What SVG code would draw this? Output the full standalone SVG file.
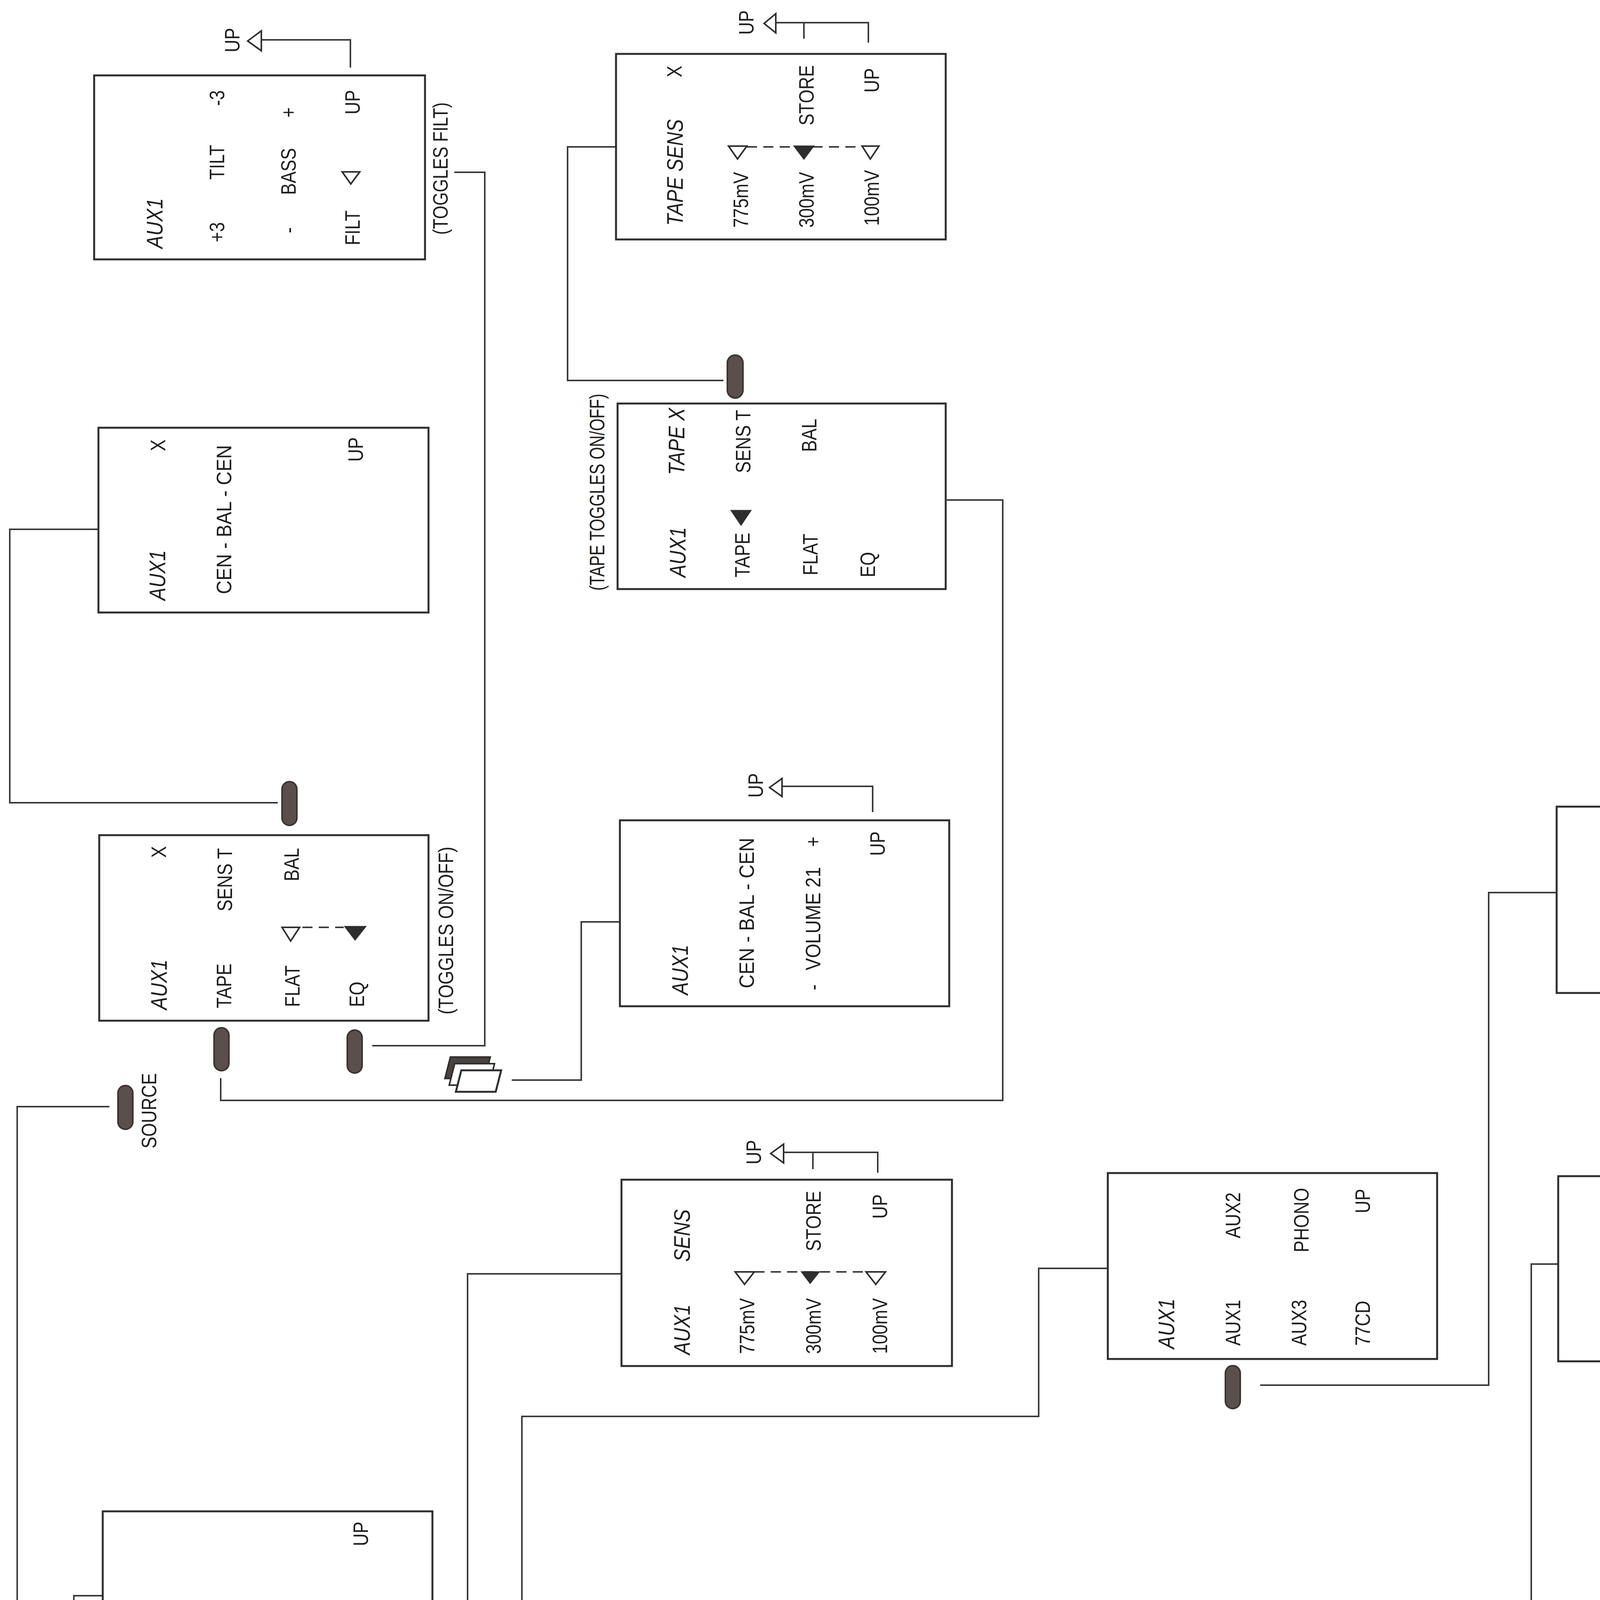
<svg xmlns="http://www.w3.org/2000/svg" width="4930" height="5728" viewBox="0 0 4930 5728">
<style>
.box{fill:#fff;stroke:#2e2e2e;stroke-width:5}
.ln{fill:none;stroke:#3a3a3a;stroke-width:4}
.dash{fill:none;stroke:#3a3a3a;stroke-width:4;stroke-dasharray:26 16}
.btn{fill:#5a4f4b;stroke:#3b3331;stroke-width:4}
.tri{fill:#fff;stroke:#2e2e2e;stroke-width:4;stroke-linejoin:miter}
.trif{fill:#2e2e2e;stroke:#2e2e2e;stroke-width:3}
.faint{fill:#fff;stroke:#aaa;stroke-width:3}
text{font-family:"Liberation Sans",Arial,sans-serif;font-size:53px;fill:#1e1e1e}
.h{font-style:italic;font-size:58px}
.s{font-size:34px}
.t{font-size:262px;fill:#222}
</style>
<rect width="4930" height="5728" fill="#fff"/>

<g id="connectors">
<path class="ln" d="M897 173V102H669"/>
<path class="ln" d="M2223 109V58H1986M2058 58V99"/>
<path class="ln" d="M2234 2079V2013H2002"/>
<path class="ln" d="M2247 3002V2950H2006M2081 2950V2993"/>
<path class="ln" d="M4642 2990V2937H4406M4477 2937V2980"/>
<path class="ln" d="M1577 376H1453V974H1852"/>
<path class="ln" d="M2424 1280H2567V2817H565V2760"/>
<path class="ln" d="M953 2677H1241V441H1163"/>
<path class="ln" d="M252 1355H25V2055H711"/>
<path class="ln" d="M280 2833H44V4618H128M253 4618H1502"/>
<path class="ln" d="M1310 2765H1488V2360H1587"/>
<path class="ln" d="M758 4495V4546H1199V4480M1197 4340V3261H1591"/>
<path class="ln" d="M973 4414H1336V3626H2659V3247H2836"/>
<path class="ln" d="M3226 3546H3811V2285H3985"/>
<path class="ln" d="M2144 4349H2841V4726H3999"/>
<path class="ln" d="M4495 5135V5287H3921V4816M3920 4604V3236H3989"/>
<path class="ln" d="M1877 4971H189V4085H263"/>
<polygon class="tri" points="634,105 669,79 669,130"/>
<polygon class="tri" points="1956,60 1986,35 1986,84"/>
<polygon class="tri" points="1970,2016 2002,1993 2002,2039"/>
<polygon class="tri" points="1973,2953 2006,2929 2006,2977"/>
<polygon class="tri" points="4373,2940 4406,2915 4406,2965"/>
<text transform="translate(613 134) rotate(-90) scale(.85 1)">UP</text>
<text transform="translate(1929 89) rotate(-90) scale(.85 1)">UP</text>
<text transform="translate(1953 2042) rotate(-90) scale(.85 1)">UP</text>
<text transform="translate(1948 2981) rotate(-90) scale(.85 1)">UP</text>
<text transform="translate(4343 2969) rotate(-90) scale(.85 1)">UP</text>
</g>

<g id="title">
<text class="t" transform="translate(4616 1231) rotate(-90)" textLength="1103" lengthAdjust="spacingAndGlyphs">Menu Tree</text>
</g>

<g id="aux1-tilt">
<rect class="box" x="241" y="193" width="847" height="471"/>
<text class="h" transform="translate(416 636) rotate(-90) scale(.85 1)">AUX1</text>
<text transform="translate(574 620) rotate(-90) scale(.85 1)">+3</text>
<text transform="translate(574 460) rotate(-90) scale(.85 1)">TILT</text>
<text transform="translate(574 271) rotate(-90) scale(.85 1)">-3</text>
<text transform="translate(757 597) rotate(-90) scale(.85 1)">-</text>
<text transform="translate(757 499) rotate(-90) scale(.85 1)">BASS</text>
<text transform="translate(757 301) rotate(-90) scale(.85 1)">+</text>
<text transform="translate(921 628) rotate(-90) scale(.85 1)">FILT</text>
<polygon class="tri" points="876,440 921,440 898,471"/>
<text transform="translate(921 293) rotate(-90) scale(.85 1)">UP</text>
<text transform="translate(1146 601) rotate(-90) scale(.85 1)" textLength="399" lengthAdjust="spacingAndGlyphs">(TOGGLES FILT)</text>
</g>

<g id="aux1-bal">
<rect class="box" x="252" y="1095" width="845" height="473"/>
<text class="h" transform="translate(423 1537) rotate(-90) scale(.85 1)">AUX1</text>
<text transform="translate(423 1155) rotate(-90) scale(.85 1)">X</text>
<text transform="translate(592 1521) rotate(-90) scale(.85 1)" textLength="449" lengthAdjust="spacingAndGlyphs">CEN  -  BAL  -  CEN</text>
<text transform="translate(929 1182) rotate(-90) scale(.85 1)">UP</text>
</g>

<g id="tape-sens">
<rect class="box" x="1577" y="138" width="844" height="475"/>
<text class="h" transform="translate(1748 578) rotate(-90) scale(.85 1)">TAPE SENS</text>
<text transform="translate(1745 198) rotate(-90) scale(.85 1)">X</text>
<text transform="translate(1915 583) rotate(-90) scale(.85 1)">775mV</text>
<text transform="translate(2083 583) rotate(-90) scale(.85 1)">300mV</text>
<text transform="translate(2250 578) rotate(-90) scale(.85 1)">100mV</text>
<text transform="translate(2083 321) rotate(-90) scale(.85 1)">STORE</text>
<text transform="translate(2250 237) rotate(-90) scale(.85 1)">UP</text>
<path class="dash" d="M1912 376H2207"/>
<polygon class="tri" points="1865,374 1912,374 1888,407"/>
<polygon class="trif" points="2033,374 2083,374 2058,407"/>
<polygon class="tri" points="2207,374 2250,374 2228,407"/>
</g>

<g id="tape-x">
<rect class="box" x="1581" y="1033" width="840" height="475"/>
<text transform="translate(1547 1512) rotate(-90) scale(.85 1)" textLength="593" lengthAdjust="spacingAndGlyphs">(TAPE TOGGLES ON/OFF)</text>
<text class="h" transform="translate(1755 1478) rotate(-90) scale(.85 1)">AUX1</text>
<text class="h" transform="translate(1752 1216) rotate(-90) scale(.85 1)">TAPE X</text>
<text transform="translate(1919 1478) rotate(-90) scale(.85 1)">TAPE</text>
<polygon class="trif" points="1872,1307 1922,1307 1897,1344"/>
<text transform="translate(1921 1211) rotate(-90) scale(.85 1)">SENS T</text>
<text transform="translate(2093 1473) rotate(-90) scale(.85 1)">FLAT</text>
<text transform="translate(2090 1157) rotate(-90) scale(.85 1)">BAL</text>
<text transform="translate(2240 1478) rotate(-90) scale(.85 1)">EQ</text>
</g>

<g id="aux1-tape">
<rect class="box" x="254" y="2138" width="843" height="475"/>
<text class="h" transform="translate(427 2585) rotate(-90) scale(.85 1)">AUX1</text>
<text transform="translate(425 2196) rotate(-90) scale(.85 1)">X</text>
<text transform="translate(592 2581) rotate(-90) scale(.85 1)">TAPE</text>
<text transform="translate(594 2333) rotate(-90) scale(.85 1)">SENS T</text>
<text transform="translate(767 2578) rotate(-90) scale(.85 1)">FLAT</text>
<text transform="translate(765 2256) rotate(-90) scale(.85 1)">BAL</text>
<text transform="translate(932 2578) rotate(-90) scale(.85 1)">EQ</text>
<path class="dash" d="M774 2374H880"/>
<polygon class="tri" points="722,2374 767,2374 744,2409"/>
<polygon class="trif" points="883,2372 936,2372 909,2406"/>
<text transform="translate(1160 2597) rotate(-90) scale(.85 1)">(TOGGLES ON/OFF)</text>
</g>

<g id="aux1-volume">
<rect class="box" x="1587" y="2100" width="843" height="476"/>
<text class="h" transform="translate(1761 2547) rotate(-90) scale(.85 1)">AUX1</text>
<text transform="translate(1930 2530) rotate(-90) scale(.85 1)" textLength="453" lengthAdjust="spacingAndGlyphs">CEN  -  BAL  -  CEN</text>
<text transform="translate(2100 2535) rotate(-90) scale(.85 1)">-</text>
<text transform="translate(2100 2484) rotate(-90) scale(.85 1)" textLength="311" lengthAdjust="spacingAndGlyphs">VOLUME  21</text>
<text transform="translate(2100 2168) rotate(-90) scale(.85 1)">+</text>
<text transform="translate(2265 2191) rotate(-90) scale(.85 1)">UP</text>
</g>

<g id="volume-icon">
<polygon fill="#4a4240" stroke="#2e2e2e" stroke-width="4" points="1153,2706 1255,2706 1241,2761 1139,2761"/>
<polygon fill="#fff" stroke="#2e2e2e" stroke-width="4" points="1164,2723 1266,2723 1252,2778 1150,2778"/>
<polygon fill="#fff" stroke="#2e2e2e" stroke-width="5" points="1181,2740 1283,2740 1269,2795 1167,2795"/>
</g>

<g id="aux1-sens">
<rect class="box" x="1591" y="3020" width="846" height="477"/>
<text class="h" transform="translate(1766 3468) rotate(-90) scale(.85 1)">AUX1</text>
<text class="h" transform="translate(1766 3230) rotate(-90) scale(.85 1)">SENS</text>
<text transform="translate(1931 3466) rotate(-90) scale(.85 1)">775mV</text>
<text transform="translate(2101 3466) rotate(-90) scale(.85 1)">300mV</text>
<text transform="translate(2271 3466) rotate(-90) scale(.85 1)">100mV</text>
<text transform="translate(2101 3203) rotate(-90) scale(.85 1)">STORE</text>
<text transform="translate(2271 3120) rotate(-90) scale(.85 1)">UP</text>
<path class="dash" d="M1931 3256H2217"/>
<polygon class="tri" points="1882,3256 1931,3256 1906,3288"/>
<polygon class="trif" points="2052,3256 2097,3256 2074,3285"/>
<polygon class="tri" points="2217,3256 2267,3256 2242,3288"/>
</g>

<g id="source-select">
<rect class="box" x="2836" y="3003" width="843" height="476"/>
<text class="h" transform="translate(3006 3453) rotate(-90) scale(.85 1)">AUX1</text>
<text transform="translate(3175 3445) rotate(-90) scale(.85 1)">AUX1</text>
<text transform="translate(3175 3170) rotate(-90) scale(.85 1)">AUX2</text>
<text transform="translate(3344 3445) rotate(-90) scale(.85 1)">AUX3</text>
<text transform="translate(3350 3206) rotate(-90) scale(.85 1)">PHONO</text>
<text transform="translate(3507 3445) rotate(-90) scale(.85 1)">77CD</text>
<text transform="translate(3507 3106) rotate(-90) scale(.85 1)">UP</text>
</g>

<g id="examp">
<rect class="box" x="3985" y="2065" width="844" height="477"/>
<text class="h" transform="translate(4154 2509) rotate(-90) scale(.85 1)">EXAMP</text>
<text transform="translate(4326 2507) rotate(-90) scale(.85 1)">&lt;</text>
<text transform="translate(4326 2446) rotate(-90) scale(.85 1)">CHARACTER</text>
<text transform="translate(4326 2136) rotate(-90) scale(.85 1)">&gt;</text>
<text transform="translate(4502 2500) rotate(-90) scale(.85 1)">&lt;</text>
<text transform="translate(4502 2413) rotate(-90) scale(.85 1)">POSITION</text>
<text transform="translate(4502 2138) rotate(-90) scale(.85 1)">&gt;</text>
<text transform="translate(4660 2509) rotate(-90) scale(.85 1)">STORE</text>
<text transform="translate(4660 2165) rotate(-90) scale(.85 1)">UP</text>
</g>

<g id="phono-sens">
<rect class="box" x="3989" y="3011" width="844" height="474"/>
<text class="h" transform="translate(4160 3452) rotate(-90) scale(.85 1)">PHONO</text>
<text transform="translate(4160 3158) rotate(-90) scale(.85 1)">SENS</text>
<text transform="translate(4327 3450) rotate(-90) scale(.85 1)">LOW</text>
<text transform="translate(4327 3108) rotate(-90) scale(.85 1)">MC</text>
<text transform="translate(4495 3450) rotate(-90) scale(.85 1)">MED</text>
<text transform="translate(4495 3191) rotate(-90) scale(.85 1)">STORE</text>
<text transform="translate(4665 3450) rotate(-90) scale(.85 1)">HIGH</text>
<text transform="translate(4665 3100) rotate(-90) scale(.85 1)">UP</text>
<path class="dash" d="M4320 3247H4610"/>
<polygon class="tri" points="4271,3247 4320,3247 4295,3280"/>
<polygon class="trif" points="4439,3247 4491,3247 4465,3278"/>
<polygon class="tri" points="4610,3247 4659,3247 4634,3280"/>
<text transform="translate(4893 3458) rotate(-90) scale(.85 1)">(TOGGLES MM/MC)</text>
</g>

<g id="aux1-menu">
<rect class="box" x="263" y="3869" width="844" height="476"/>
<text class="h" transform="translate(437 4320) rotate(-90) scale(.85 1)">AUX1</text>
<text transform="translate(774 4311) rotate(-90) scale(.85 1)">SENS</text>
<text transform="translate(942 4311) rotate(-90) scale(.85 1)">EDIT</text>
<text transform="translate(942 3958) rotate(-90) scale(.85 1)">UP</text>
</g>

<g id="top-level-menu">
<rect class="box" x="1600" y="4427" width="845" height="475"/>
<text transform="translate(1568 4872) rotate(-90) scale(.85 1)" textLength="488" lengthAdjust="spacingAndGlyphs">TOP LEVEL MENU</text>
<text class="h" transform="translate(1772 4867) rotate(-90) scale(.85 1)">77REM</text>
<text transform="translate(1940 4867) rotate(-90) scale(.85 1)">AUX1</text>
<text transform="translate(1940 4570) rotate(-90) scale(.85 1)">AUX2</text>
<path class="dash" d="M1937 4662H2059" style="stroke:#aaa"/>
<polygon class="trif" points="1888,4660 1937,4660 1912,4693"/>
<polygon class="faint" points="2059,4655 2105,4655 2082,4691"/>
<text transform="translate(2108 4867) rotate(-90) scale(.85 1)">AUX3</text>
<text transform="translate(2105 4613) rotate(-90) scale(.85 1)">PHONO</text>
<text transform="translate(2277 4867) rotate(-90) scale(.85 1)">77CD</text>
</g>

<g id="phono-menu">
<rect class="box" x="3999" y="4489" width="845" height="476"/>
<text class="h" transform="translate(4168 4937) rotate(-90) scale(.85 1)">PHONO</text>
<text transform="translate(4506 4931) rotate(-90) scale(.85 1)">SENS</text>
<text transform="translate(4677 4931) rotate(-90) scale(.85 1)">EDIT</text>
<text transform="translate(4677 4589) rotate(-90) scale(.85 1)">UP</text>
</g>

<g id="standby">
<rect class="box" x="1603" y="5248" width="846" height="472"/>
<text class="h" transform="translate(1772 5701) rotate(-90)" textLength="405" lengthAdjust="spacing">. .  STANDBY  . .</text>
</g>

<g id="buttons">
<rect id="btn-bal" class="btn" x="722" y="2001" width="38" height="112" rx="19"/>
<rect id="btn-sens-t" class="btn" x="1862" y="909" width="40" height="110" rx="20"/>
<rect id="btn-tape" class="btn" x="548" y="2631" width="38" height="110" rx="19"/>
<rect id="btn-eq" class="btn" x="889" y="2637" width="38" height="110" rx="19"/>
<rect id="btn-source" class="btn" x="302" y="2779" width="38" height="112" rx="19"/>
<text transform="translate(400 2940) rotate(-90) scale(.85 1)">SOURCE</text>
<rect id="btn-aux-select" class="btn" x="3137" y="3496" width="38" height="110" rx="19"/>
<rect id="btn-examp-store" class="btn" x="4630" y="2551" width="38" height="114" rx="19"/>
<rect id="btn-aux1-sens" class="btn" x="736" y="4360" width="38" height="112" rx="19"/>
<rect id="btn-aux1-edit" class="btn" x="906" y="4360" width="38" height="112" rx="19"/>
<rect id="btn-top-aux1" class="btn" x="1905" y="4910" width="38" height="113" rx="19"/>
<rect id="btn-top-phono" class="btn" x="2066" y="4302" width="38" height="113" rx="19"/>
<rect id="btn-standby" class="btn" x="1737" y="5103" width="36" height="108" rx="18"/>
<text class="s" transform="translate(1716 5221) rotate(-90) scale(.78 1)">STANDBY</text>
<rect id="btn-phono-sens" class="btn" x="4469" y="4980" width="38" height="112" rx="19"/>
</g>
</svg>
